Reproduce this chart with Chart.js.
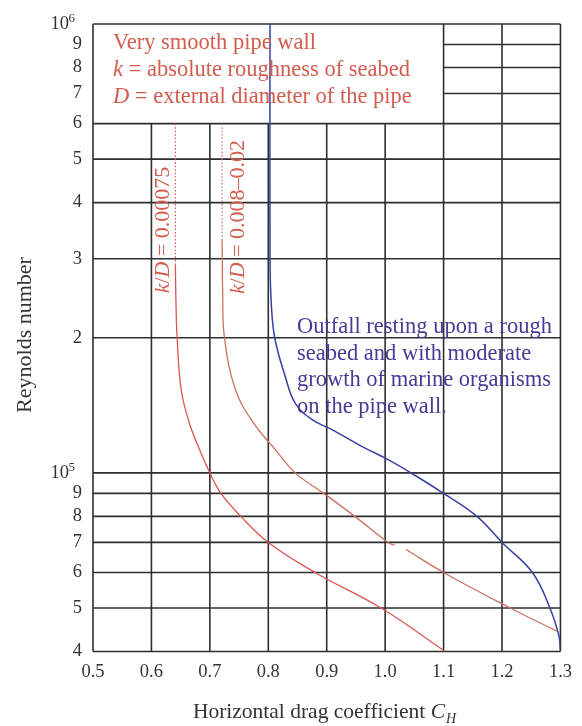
<!DOCTYPE html>
<html><head><meta charset="utf-8">
<script src="https://cdn.jsdelivr.net/npm/chart.js@4.4.1/dist/chart.umd.min.js"></script>
<style>html,body{margin:0;padding:0;background:#fff}#wrap{width:582px;height:726px;position:relative}canvas{display:block}</style>
</head><body><div id="wrap"><canvas id="c" width="582" height="726" style="width:582px;height:726px"></canvas></div>
<script>
// ---- axis ticks / grid ----
const xTickValues = [0.5, 0.6, 0.7, 0.8, 0.9, 1.0, 1.1, 1.2, 1.3];
const yTickValues = [4e4, 5e4, 6e4, 7e4, 8e4, 9e4, 1e5, 2e5, 3e5, 4e5, 5e5, 6e5, 7e5, 8e5, 9e5, 1e6];
const gridRowsFull = [4e4, 5e4, 6e4, 7e4, 8e4, 9e4, 1e5, 2e5, 3e5, 4e5, 5e5, 6e5, 1e6];
const gridRowsRight = [7e5, 8e5, 9e5];
const gridColsLower = [0.6, 0.7, 0.8, 0.9, 1.0];
const gridColsFull = [0.5, 1.1, 1.2, 1.3];

// ---- curves (C_H vs Reynolds number) ----
const smoothDotCH = [0.641, 0.641];
const smoothDotRe = [6e5, 2.9e5];
const smoothCH = [0.641, 0.642, 0.644, 0.651, 0.665, 0.682, 0.700, 0.719, 0.753, 0.800, 0.880, 0.993, 1.103];
const smoothRe = [2.9e5, 2.4e5, 2e5, 1.53e5, 1.29e5, 1.13e5, 1e5, 9e4, 8e4, 7e4, 6e4, 5e4, 4e4];

const roughDotCH = [0.721, 0.721];
const roughDotRe = [6e5, 3.3e5];
const roughACH = [0.721, 0.722, 0.725, 0.744, 0.775, 0.812, 0.846, 0.895, 0.948, 1.005, 1.016];
const roughARe = [3.3e5, 2.5e5, 2e5, 1.53e5, 1.29e5, 1.127e5, 1e5, 9e4, 8e4, 7e4, 6.9e4];
const roughBCH = [1.036, 1.100, 1.214, 1.294];
const roughBRe = [6.75e4, 6e4, 5e4, 4.44e4];

const outfallCH = [0.803, 0.803, 0.805, 0.811, 0.829, 0.846, 0.875, 0.909, 0.960, 1.005, 1.044, 1.100, 1.157, 1.200, 1.252, 1.282, 1.298, 1.300];
const outfallRe = [1e6, 3e5, 2.4e5, 2e5, 1.64e5, 1.43e5, 1.314e5, 1.248e5, 1.146e5, 1.07e5, 1e5, 9e4, 8e4, 7e4, 6e4, 5e4, 4.3e4, 4e4];

const RED = 'rgb(218,85,80)';
const RED2 = 'rgb(204,112,96)';
const BLUE = 'rgb(55,65,160)';
const TXT_RED = 'rgb(212,92,78)';
const TXT_BLUE = 'rgb(72,58,150)';
const GRID = '#2e2e2e';
const SERIF = '"Liberation Serif", "DejaVu Serif", serif';

const pts = (xs, ys) => xs.map((x, i) => ({x, y: ys[i]}));
const ds = (xs, ys, color, width, dash) => ({
  data: pts(xs, ys), showLine: true, borderColor: color, borderWidth: width,
  borderDash: dash || [], pointRadius: 0, tension: 0.4, fill: false
});

function richText(ctx, parts, size, x, y, align) {
  let w = 0;
  parts.forEach(p => { ctx.font = (p.i ? 'italic ' : '') + size + 'px ' + SERIF; w += ctx.measureText(p.t).width; });
  let cx = align === 'center' ? x - w / 2 : x;
  ctx.textAlign = 'left';
  parts.forEach(p => {
    ctx.font = (p.i ? 'italic ' : '') + size + 'px ' + SERIF;
    ctx.fillText(p.t, cx, y);
    cx += ctx.measureText(p.t).width;
  });
  return w;
}

const gridPlugin = {
  id: 'grid',
  beforeDatasetsDraw(chart) {
    const {ctx, scales: {x, y}} = chart;
    ctx.save();
    ctx.strokeStyle = GRID; ctx.lineWidth = 1.6;
    const h = (v, x0, x1) => { ctx.beginPath(); ctx.moveTo(x.getPixelForValue(x0), y.getPixelForValue(v)); ctx.lineTo(x.getPixelForValue(x1), y.getPixelForValue(v)); ctx.stroke(); };
    const vl = (v, y0, y1) => { ctx.beginPath(); ctx.moveTo(x.getPixelForValue(v), y.getPixelForValue(y0)); ctx.lineTo(x.getPixelForValue(v), y.getPixelForValue(y1)); ctx.stroke(); };
    gridRowsFull.forEach(v => h(v, 0.5, 1.3));
    gridRowsRight.forEach(v => h(v, 1.1, 1.3));
    gridColsLower.forEach(v => vl(v, 4e4, 6e5));
    gridColsFull.forEach(v => vl(v, 4e4, 1e6));
    ctx.restore();
  },
  afterDatasetsDraw(chart) {
    const {ctx, scales: {y}} = chart;
    ctx.save();
    ctx.textBaseline = 'alphabetic';
    ctx.fillStyle = '#333';
    ctx.font = '13px ' + SERIF;
    ctx.textAlign = 'left';
    [[1e6, '6'], [1e5, '5']].forEach(([v, e]) => ctx.fillText(e, 68.5, y.getPixelForValue(v) - 2));
    const fs = 22.5;
    ctx.fillStyle = TXT_RED;
    richText(ctx, [{t: 'Very smooth pipe wall'}], fs, 113, 49, 'left');
    richText(ctx, [{t: 'k', i: true}, {t: ' = absolute roughness of seabed'}], fs, 113, 76, 'left');
    richText(ctx, [{t: 'D', i: true}, {t: ' = external diameter of the pipe'}], fs, 113, 103, 'left');
    ctx.fillStyle = TXT_BLUE;
    ['Outfall resting upon a rough', 'seabed and with moderate', 'growth of marine organisms', 'on the pipe wall.']
      .forEach((t, i) => richText(ctx, [{t}], fs, 297, 333 + i * 26.5, 'left'));
    ctx.fillStyle = TXT_RED;
    ctx.save(); ctx.translate(169, 230); ctx.rotate(-Math.PI / 2);
    richText(ctx, [{t: 'k', i: true}, {t: '/'}, {t: 'D', i: true}, {t: ' = 0.00075'}], 22, 0, 0, 'center');
    ctx.restore();
    ctx.save(); ctx.translate(244, 217); ctx.rotate(-Math.PI / 2);
    richText(ctx, [{t: 'k', i: true}, {t: '/'}, {t: 'D', i: true}, {t: ' = 0.008\u20130.02'}], 22, 0, 0, 'center');
    ctx.restore();
    ctx.fillStyle = '#333';
    ctx.save(); ctx.translate(31, 335); ctx.rotate(-Math.PI / 2);
    richText(ctx, [{t: 'Reynolds number'}], 22, 0, 0, 'center');
    ctx.restore();
    const main = 'Horizontal drag coefficient ';
    ctx.font = '21.5px ' + SERIF; const w1 = ctx.measureText(main).width;
    ctx.font = 'italic 21.5px ' + SERIF; const w2 = ctx.measureText('C').width;
    ctx.font = 'italic 14px ' + SERIF; const w3 = ctx.measureText('H').width;
    const x0 = 324 - (w1 + w2 + w3) / 2;
    richText(ctx, [{t: main}, {t: 'C', i: true}], 21.5, x0, 718, 'left');
    ctx.font = 'italic 14px ' + SERIF;
    ctx.fillText('H', x0 + w1 + w2 + 1, 723);
    ctx.restore();
  }
};

new Chart(document.getElementById('c'), {
  type: 'scatter',
  data: {
    datasets: [
      ds(smoothDotCH, smoothDotRe, RED, 1.2, [1.5, 2]),
      ds(smoothCH, smoothRe, RED, 1.3),
      ds(roughDotCH, roughDotRe, RED2, 1.2, [1.5, 2]),
      ds(roughACH, roughARe, RED2, 1.3),
      ds(roughBCH, roughBRe, RED2, 1.3),
      ds(outfallCH, outfallRe, BLUE, 1.5)
    ]
  },
  options: {
    responsive: false, animation: false, devicePixelRatio: 1,
    layout: {padding: {left: 0, right: 18.5, top: 24, bottom: 0}},
    plugins: {legend: {display: false}, tooltip: {enabled: false}},
    scales: {
      x: {
        type: 'linear', min: 0.5, max: 1.3,
        grid: {display: false, drawTicks: false}, border: {display: false},
        afterBuildTicks(s) { s.ticks = xTickValues.map(v => ({value: v})); },
        afterFit(s) { s.height = 74.5; },
        ticks: {color: '#333', padding: 10, font: {family: SERIF, size: 18.5},
          callback: v => Number(v).toFixed(1), maxRotation: 0, autoSkip: false}
      },
      y: {
        type: 'logarithmic', min: 4e4, max: 1e6,
        grid: {display: false, drawTicks: false}, border: {display: false},
        afterBuildTicks(s) { s.ticks = yTickValues.map(v => ({value: v})); },
        afterFit(s) { s.width = 93; },
        ticks: {color: '#333', padding: 11, font: {family: SERIF, size: 18.5}, autoSkip: false,
          callback: v => (v === 1e5 || v === 1e6) ? '10\u2002\u2009' : String(Math.round(v / Math.pow(10, Math.floor(Math.log10(v) + 1e-9))))}
      }
    }
  },
  plugins: [gridPlugin]
});
</script>
</body></html>
